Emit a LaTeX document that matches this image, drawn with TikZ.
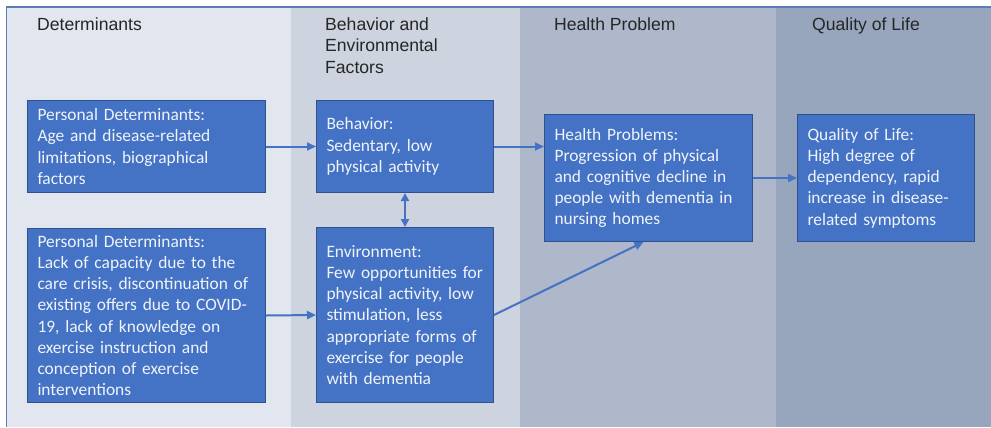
\documentclass[tikz,border=0pt]{standalone}
\usepackage{fontspec}
\usetikzlibrary{arrows.meta}
\newfontfamily\boxfont{Carlito}
\newfontfamily\headfont{Liberation Sans}
\definecolor{colA}{HTML}{E2E6EE}
\definecolor{colB}{HTML}{CDD3DF}
\definecolor{colC}{HTML}{AEB8CA}
\definecolor{colD}{HTML}{97A6BC}
\definecolor{boxfill}{HTML}{4472C4}
\definecolor{boxline}{HTML}{2F528F}
\definecolor{frameline}{HTML}{5B7DB8}
\tikzset{
  factor/.style={draw=boxline, line width=1bp, fill=boxfill, text=white!92!boxfill,
    anchor=north west, align=left, inner xsep=10bp, inner ysep=0bp,
    font=\boxfont\fontsize{17.4bp}{21.2bp}\selectfont},
  heading/.style={anchor=base west, align=left, inner sep=0pt, text=black!85,
    font=\headfont\fontsize{17.6bp}{21.5bp}\selectfont},
  link/.style={draw=boxfill, line width=2bp, -{Triangle[length=9bp,width=8bp]}},
  duallink/.style={draw=boxfill, line width=2bp, {Triangle[length=8bp,width=8bp]}-{Triangle[length=8bp,width=8bp]}}
}
\begin{document}
\begin{tikzpicture}[x=1bp,y=-1bp]
\useasboundingbox (0,0) rectangle (991,427);
% column bands
\fill[colA] (7,7) rectangle (291,427);
\fill[colB] (291,7) rectangle (520,427);
\fill[colC] (520,7) rectangle (776,427);
\fill[colD] (776,7) rectangle (991,427);
\draw[frameline, line width=1.5bp] (6.5,427) -- (6.5,7) -- (991,7);

% column headings (base anchor sits on the last line)
\node[heading] (h1) at (37,30) {Determinants};
\node[heading] (h2) at (325,73) {Behavior and\\Environmental\\Factors};
\node[heading] (h3) at (554,30) {Health Problem};
\node[heading] (h4) at (812,30) {Quality of Life};

% factor boxes (lines kept whole with \mbox)
\node[factor, text width=218bp, minimum height=92bp] (pd1) at (27,100)
  {Personal Determinants:\\Age and disease-related\\limitations, biographical\\factors};
\node[factor, text width=218bp, minimum height=174bp] (pd2) at (27,228)
  {Personal Determinants:\\Lack of capacity due to the\\\mbox{care crisis, discontinuation of}\\existing offers due to COVID-\\19, lack of knowledge on\\exercise instruction and\\conception of exercise\\interventions};
\node[factor, text width=157bp, minimum height=92bp] (beh) at (316,100)
  {Behavior:\\Sedentary, low\\physical activity};
\node[factor, text width=157bp, minimum height=175bp] (env) at (316,227)
  {Environment:\\\mbox{Few opportunities for}\\\mbox{physical activity, low}\\stimulation, less\\\mbox{appropriate forms of}\\exercise for people\\with dementia};
\node[factor, text width=188bp, minimum height=127bp] (hp) at (544,114)
  {Health Problems:\\\mbox{Progression of physical}\\\mbox{and cognitive decline in}\\\mbox{people with dementia in}\\nursing homes};
\node[factor, text width=157bp, minimum height=127bp] (qol) at (797,114)
  {Quality of Life:\\High degree of\\dependency, rapid\\\mbox{increase in disease-}\\related symptoms};

% connectors
\draw[link] (pd1.east) -- (beh.west);
\draw[link] (pd2.east) -- (env.west);
\draw[link] (beh.east) -- (beh.east -| hp.west);
\draw[duallink] (beh.south) -- (env.north);
\draw[link] (env.east) -- ([xshift=-5bp]hp.south);
\draw[link] (hp.east) -- (qol.west);
\end{tikzpicture}
\end{document}
